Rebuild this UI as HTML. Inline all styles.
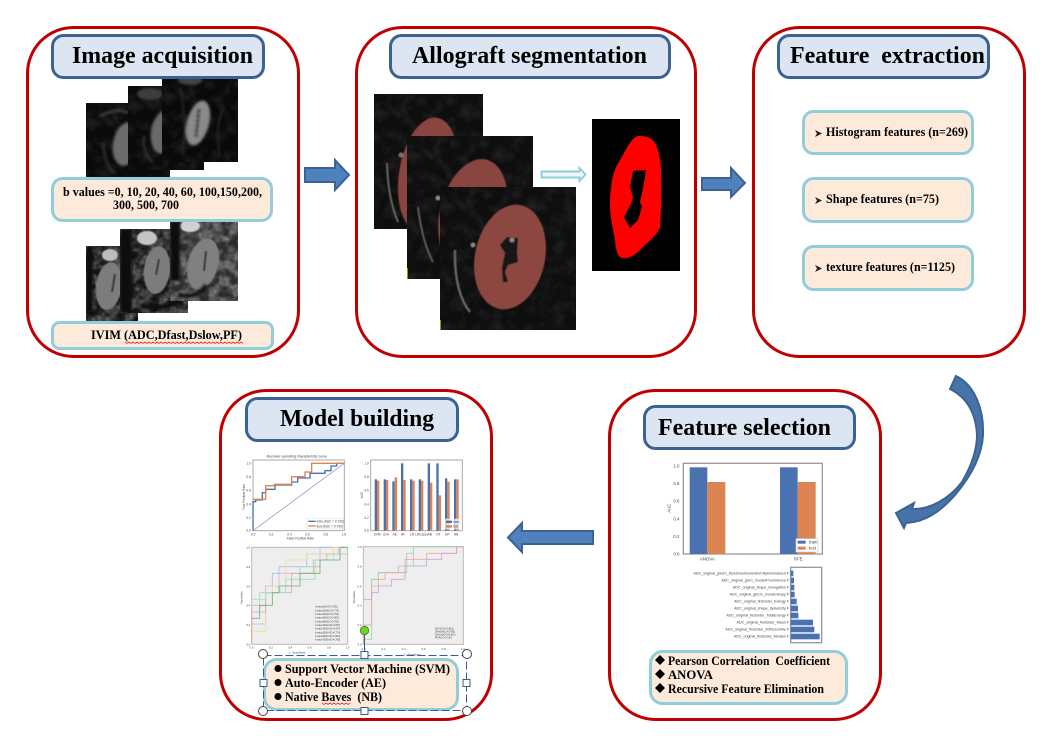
<!DOCTYPE html>
<html><head><meta charset="utf-8"><style>
html,body{margin:0;padding:0;background:#fff}
svg{display:block}
text{font-family:"Liberation Serif",serif;font-weight:bold;fill:#000}
.ch text{font-family:"Liberation Sans",sans-serif;font-weight:normal;fill:#444}
</style></head><body>
<svg xmlns="http://www.w3.org/2000/svg" width="1045" height="754" viewBox="0 0 1045 754">
<defs>
<filter id="b1" x="-30%" y="-30%" width="160%" height="160%"><feGaussianBlur stdDeviation="1.2"/></filter>
<filter id="b3" x="-30%" y="-30%" width="160%" height="160%"><feGaussianBlur stdDeviation="0.6"/></filter>
<filter id="b0" x="-5%" y="-5%" width="110%" height="110%"><feGaussianBlur stdDeviation="0.55"/></filter>
<filter id="nz" x="0" y="0" width="100%" height="100%"><feTurbulence type="fractalNoise" baseFrequency="0.25" numOctaves="2" seed="4"/><feColorMatrix values="0 0 0 0 1  0 0 0 0 1  0 0 0 0 1  1.6 0 0 0 -0.62"/></filter>
<filter id="nd" x="0" y="0" width="100%" height="100%"><feTurbulence type="fractalNoise" baseFrequency="0.1" numOctaves="2" seed="9"/><feColorMatrix values="0 0 0 0 0  0 0 0 0 0  0 0 0 0 0  3.2 0 0 0 -1.2"/></filter>
<filter id="ns" x="0" y="0" width="100%" height="100%"><feTurbulence type="fractalNoise" baseFrequency="0.08" numOctaves="3" seed="2"/><feColorMatrix values="0 0 0 0 1  0 0 0 0 1  0 0 0 0 1  1.1 0 0 0 -0.45"/></filter>
</defs>

<!-- panels -->
<g fill="#fff" stroke="#c00000" stroke-width="3">
<rect x="27.500" y="27.500" width="271" height="329" rx="46"/>
<rect x="356.500" y="27.500" width="339" height="329" rx="46"/>
<rect x="753.500" y="27.500" width="271" height="329" rx="46"/>
<rect x="220.500" y="390.500" width="271" height="329" rx="46"/>
<rect x="609.500" y="390.500" width="271" height="329" rx="46"/>
</g>

<!-- top-left DWI images -->
<svg x="86" y="103" width="84" height="74"><rect width="84" height="74" fill="#0a0a0a"/>
<rect width="84" height="74" filter="url(#ns)" opacity=".16"/>
<g filter="url(#b1)"><ellipse cx="40" cy="41" rx="13" ry="22" transform="rotate(10 40 41)" fill="#6c6c6c"/><path d="M14 13 Q32 4 42 10" stroke="#3c3c3c" stroke-width="3" fill="none"/><path d="M17 40 Q18 60 28 70" stroke="#383838" stroke-width="2" fill="none"/></g></svg>
<svg x="128" y="86" width="76" height="84"><rect width="76" height="84" fill="#0a0a0a"/>
<rect width="76" height="84" filter="url(#ns)" opacity=".16"/>
<g filter="url(#b1)"><ellipse cx="36" cy="46" rx="13" ry="22" transform="rotate(10 36 46)" fill="#696969"/><ellipse cx="22" cy="8" rx="13" ry="6" fill="#3c3c3c"/><path d="M16 50 Q14 68 25 76" stroke="#383838" stroke-width="2" fill="none"/></g></svg>
<svg x="162" y="77" width="76" height="85"><rect width="76" height="85" fill="#090909"/>
<rect width="76" height="85" filter="url(#ns)" opacity=".16"/>
<g filter="url(#b1)"><ellipse cx="36" cy="46" rx="11" ry="23" transform="rotate(15 36 46)" fill="#8a8a8a"/><path d="M37 32 L34 60" stroke="#2c2c2c" stroke-width="3" stroke-dasharray="4 1"/><ellipse cx="28" cy="3" rx="12" ry="5" fill="#444"/><path d="M18 10 Q26 50 20 78 M62 30 Q52 50 58 80" stroke="#262626" stroke-width="2" fill="none"/></g></svg>

<!-- bottom-left IVIM images -->
<svg x="86" y="246" width="52" height="75"><rect width="52" height="75" fill="#3c3c3c"/>
<rect width="52" height="75" filter="url(#nz)" opacity=".35"/><rect width="52" height="75" filter="url(#nd)" opacity=".7"/>
<g filter="url(#b3)"><ellipse cx="23" cy="40" rx="13" ry="24" transform="rotate(8 23 40)" fill="#7b7b7b"/><ellipse cx="24" cy="9" rx="8" ry="6" fill="#bdbdbd"/><path d="M29 28 L26 46" stroke="#333" stroke-width="2"/></g>
<rect x="0" y="0" width="7" height="66" fill="#0a0a0a" filter="url(#b1)"/><path d="M0 71 H52" stroke="#111" stroke-width="7" filter="url(#b1)"/></svg>
<svg x="120" y="229" width="68" height="84"><rect width="68" height="84" fill="#3c3c3c"/>
<rect width="68" height="84" filter="url(#nz)" opacity=".35"/><rect width="68" height="84" filter="url(#nd)" opacity=".7"/>
<g filter="url(#b3)"><ellipse cx="37" cy="41" rx="13" ry="24" transform="rotate(6 37 41)" fill="#7b7b7b"/><ellipse cx="27" cy="9" rx="10" ry="7" fill="#c4c4c4"/><path d="M39 30 L36 46" stroke="#333" stroke-width="2"/></g>
<rect x="0" y="0" width="12" height="84" fill="#0a0a0a" filter="url(#b1)"/><path d="M20 76 Q45 84 68 66" stroke="#111" stroke-width="5" fill="none" filter="url(#b1)"/></svg>
<svg x="170" y="221" width="68" height="80"><rect width="68" height="80" fill="#5c5c5c"/>
<rect width="68" height="80" filter="url(#nz)" opacity=".3"/><rect width="68" height="80" filter="url(#nd)" opacity=".55"/>
<g filter="url(#b3)"><ellipse cx="33" cy="43" rx="15" ry="26" transform="rotate(15 33 43)" fill="#808080"/><ellipse cx="20" cy="5" rx="10" ry="6" fill="#d0d0d0"/><path d="M36 30 L34 50" stroke="#333" stroke-width="2"/></g>
<rect x="0" y="0" width="10" height="60" fill="#0a0a0a" filter="url(#b1)"/><path d="M8 74 Q28 78 36 64" stroke="#111" stroke-width="4" fill="none" filter="url(#b1)"/></svg>

<!-- segmentation images -->
<svg x="374" y="94" width="109" height="135"><rect width="109" height="135" fill="#0e0e0e"/>
<rect width="109" height="135" filter="url(#ns)" opacity=".14"/>
<g filter="url(#b3)"><ellipse cx="54" cy="81" rx="29" ry="58" transform="rotate(9 54 81)" fill="#8b4540"/><circle cx="27" cy="61" r="2.500" fill="#777"/><path d="M13 69 Q14 105 24 128" stroke="#666" stroke-width="2" fill="none"/></g></svg>
<svg x="407" y="136" width="126" height="143"><rect width="126" height="143" fill="#0e0e0e"/>
<rect width="126" height="143" filter="url(#ns)" opacity=".14"/>
<g filter="url(#b3)"><ellipse cx="66" cy="78" rx="33" ry="56" transform="rotate(14 66 78)" fill="#8b4540"/><circle cx="31" cy="62" r="2.500" fill="#888"/><path d="M11 71 Q15 105 26 126" stroke="#5c5c5c" stroke-width="2" fill="none"/></g><line x1=".5" y1="132" x2=".5" y2="143" stroke="#a89000"/></svg>
<svg x="440" y="187" width="136" height="143"><rect width="136" height="143" fill="#0e0e0e"/>
<rect width="136" height="143" filter="url(#ns)" opacity=".14"/>
<g filter="url(#b3)"><path d="M15 63 Q14 105 30 125" stroke="#666" stroke-width="2.500" fill="none"/><ellipse cx="70" cy="70" rx="35" ry="53" transform="rotate(12 70 70)" fill="#8c4640"/><circle cx="33" cy="58" r="2.500" fill="#888"/><path d="M60 58L67 50L78 51L77 66L78 75L68 78L65 85L68 95L63 95L62 81L65 66Z" fill="#161616"/><circle cx="72" cy="53" r="2.500" fill="#888"/></g><line x1=".5" y1="133" x2=".5" y2="143" stroke="#a89000"/></svg>
<rect x="592" y="119" width="88" height="152" fill="#000"/>
<path d="M638 136C646 136 652 137 656 145C659 152 661 162 661 172C662 190 661 210 660 228C655 238 646 243 640 250C634 256 628 259 622 258C617 256 616 250 615 240C613 228 610 218 610 205C610 190 612 175 617 165C624 155 630 138 638 136Z M633 171L630 187L633 197L631 204L624 217L630 228L638 220L642 207L640 202L644 183L646 170Z" fill="#f00" fill-rule="evenodd"/>

<!-- arrows -->
<g fill="#4f81bd" stroke="#3c6292" stroke-width="2">
<polygon points="305,168 335,168 335,160 349,175 335,190 335,182 305,182"/>
<polygon points="702,178 731,178 731,168 745,183 731,197 731,190 702,190"/>
<polygon points="593,531 522,531 522,523 508,537.500 522,552 522,544 593,544"/>
<path d="M956 376C975 385 984 410 983 435C982 455 972 475 955 495C940 512 925 522 906 523L904 528L896 513L914 503L912 509C930 510 950 498 962 482C972 465 977 450 977 435C976 415 968 398 950 389Z" fill="#4673a8"/>
</g>
<polygon points="541.500,171.500 579.500,171.500 579.500,168 585.500,174.500 579.500,181 579.500,177.500 541.500,177.500" fill="#eef6f9" stroke="#92cddc" stroke-width="2"/>

<!-- titles -->
<g fill="#dce6f2" stroke="#3c6292" stroke-width="3">
<rect x="52.500" y="35.500" width="211" height="42" rx="11"/>
<rect x="390.500" y="35.500" width="279" height="42" rx="11"/>
<rect x="778.500" y="35.500" width="210" height="42" rx="11"/>
<rect x="246.500" y="398.500" width="211" height="42" rx="11"/>
<rect x="644.500" y="406.500" width="210" height="42" rx="11"/>
</g>
<g font-size="24">
<text x="72" y="63" textLength="181" lengthAdjust="spacingAndGlyphs">Image acquisition</text>
<text x="412" y="63" textLength="235" lengthAdjust="spacingAndGlyphs">Allograft segmentation</text>
<text x="790" y="63" textLength="195" lengthAdjust="spacingAndGlyphs" xml:space="preserve">Feature  extraction</text>
<text x="280" y="426" textLength="154" lengthAdjust="spacingAndGlyphs">Model building</text>
<text x="658" y="435" textLength="173" lengthAdjust="spacingAndGlyphs">Feature selection</text>
</g>

<!-- text boxes -->
<g fill="#fdeada" stroke="#92cddc" stroke-width="3">
<rect x="52.500" y="178.500" width="219" height="42" rx="10"/>
<rect x="52.500" y="322.500" width="220" height="26" rx="7"/>
<rect x="803.500" y="111.500" width="169" height="42" rx="10"/>
<rect x="803.500" y="178.500" width="169" height="43" rx="10"/>
<rect x="803.500" y="246.500" width="169" height="43" rx="10"/>
<rect x="650.500" y="651.500" width="196" height="52" rx="12"/>
</g>
<g font-size="13">
<text x="63" y="196" textLength="199" lengthAdjust="spacingAndGlyphs">b values =0, 10, 20, 40, 60, 100,150,200,</text>
<text x="113" y="209" textLength="66" lengthAdjust="spacingAndGlyphs">300, 500, 700</text>
<text x="91" y="339" textLength="151" lengthAdjust="spacingAndGlyphs">IVIM (ADC,Dfast,Dslow,PF)</text>
</g>
<path d="M125 342l2 1.500l2-1.500l2 1.500l2-1.500l2 1.500l2-1.500l2 1.500l2-1.500l2 1.500l2-1.500l2 1.500l2-1.500l2 1.500l2-1.500l2 1.500l2-1.500l2 1.500l2-1.500l2 1.500l2-1.500l2 1.500l2-1.500l2 1.500l2-1.500l2 1.500l2-1.500l2 1.500l2-1.500l2 1.500l2-1.500l2 1.500l2-1.500l2 1.500l2-1.500l2 1.500l2-1.500l2 1.500l2-1.500l2 1.500l2-1.500l2 1.500l2-1.500l2 1.500l2-1.500l2 1.500l2-1.500l2 1.500l2-1.500l2 1.500l2-1.500l2 1.500l2-1.500l2 1.500l2-1.500l2 1.500l2-1.500l2 1.500l2-1.500l2 1.500" fill="none" stroke="#e33" stroke-width=".8"/>
<g font-size="13">
<text x="826" y="136" textLength="142" lengthAdjust="spacingAndGlyphs">Histogram features (n=269)</text>
<text x="826" y="203" textLength="113" lengthAdjust="spacingAndGlyphs">Shape features (n=75)</text>
<text x="826" y="271" textLength="129" lengthAdjust="spacingAndGlyphs">texture features (n=1125)</text>
</g>
<g fill="#222">
<polygon points="815,130 822,133.500 815,137 817,133.500"/>
<polygon points="815,197 822,200.500 815,204 817,200.500"/>
<polygon points="815,265 822,268.500 815,272 817,268.500"/>
</g>

<!-- feature selection charts -->
<g class="ch" filter="url(#b0)" transform="translate(640 450) scale(.33333)">
<rect x="130" y="40" width="417" height="272" fill="#fff" stroke="#999" stroke-width="4"/>
<g fill="#4c72b0"><rect x="149" y="52" width="53" height="260"/><rect x="420" y="52" width="53" height="260"/></g>
<g fill="#dd8452"><rect x="202" y="96" width="54" height="216"/><rect x="473" y="96" width="54" height="216"/></g>
<rect x="468" y="266" width="66" height="40" fill="#fff" stroke="#ccc" stroke-width="2"/>
<rect x="473" y="272" width="24" height="9" fill="#4c72b0"/><rect x="473" y="290" width="24" height="9" fill="#dd8452"/>
<g font-size="13"><text x="507" y="280">train</text><text x="507" y="298">test</text>
<text x="100" y="52">1.0</text><text x="100" y="105">0.8</text><text x="100" y="158">0.6</text><text x="100" y="211">0.4</text><text x="100" y="264">0.2</text><text x="100" y="316">0.0</text>
<text x="180" y="331">ANOVA</text><text x="462" y="331">RFE</text>
<text transform="translate(92 188) rotate(-90)">AUC</text></g>
<rect x="452" y="352" width="93" height="226" fill="#fff" stroke="#999" stroke-width="4"/>
<g fill="#4c72b0"><rect x="452" y="362" width="8" height="17"/><rect x="452" y="383" width="10" height="17"/><rect x="452" y="404" width="11" height="17"/><rect x="452" y="425" width="12" height="17"/><rect x="452" y="446" width="18" height="17"/><rect x="452" y="467" width="22" height="17"/><rect x="452" y="488" width="23" height="17"/><rect x="452" y="509" width="67" height="17"/><rect x="452" y="530" width="71" height="17"/><rect x="452" y="551" width="87" height="17"/></g>
<g font-size="11" text-anchor="end"><text x="447" y="374">ADC_original_glszm_SizeZoneNonUniformityNormalized F</text><text x="447" y="395">ADC_original_glcm_ClusterProminence F</text><text x="447" y="416">ADC_original_shape_Elongation F</text><text x="447" y="437">ADC_original_glszm_ZoneEntropy F</text><text x="447" y="458">ADC_original_firstorder_Energy F</text><text x="447" y="479">ADC_original_shape_Sphericity F</text><text x="447" y="500">ADC_original_firstorder_TotalEnergy F</text><text x="447" y="521">ADC_original_firstorder_Mean F</text><text x="447" y="542">ADC_original_firstorder_90Percentile F</text><text x="447" y="563">ADC_original_firstorder_Median F</text></g>
</g>
<g font-size="13">
<text x="668" y="665" textLength="162" lengthAdjust="spacingAndGlyphs" xml:space="preserve">Pearson Correlation  Coefficient</text>
<text x="668" y="679" textLength="45" lengthAdjust="spacingAndGlyphs">ANOVA</text>
<text x="668" y="693" textLength="156" lengthAdjust="spacingAndGlyphs">Recursive Feature Elimination</text>
</g>
<g fill="#000"><polygon points="660,655 665,660 660,665 655,660"/><polygon points="660,669 665,674 660,679 655,674"/><polygon points="660,683 665,688 660,693 655,688"/></g>

<!-- model charts -->
<g class="ch" filter="url(#b0)" transform="translate(225 450) scale(.33333)">
<rect x="84" y="30" width="274" height="212" fill="#fff" stroke="#aaa" stroke-width="3"/>
<text x="125" y="23" font-size="10.500">Receiver operating characteristic curve</text>
<line x1="84" y1="242" x2="358" y2="40" stroke="#8080c0" stroke-width="2"/>
<path d="M84 242V155H92V150H112V128H122V118H150V105H200V96H218V84H255V70H300V62H318V48H335V40H358" fill="none" stroke="#4c72b0" stroke-width="4"/>
<path d="M84 148H122V107H148V103H200V80H240V66H260V40H358" fill="none" stroke="#dd8452" stroke-width="4"/>
<rect x="246" y="205" width="108" height="32" fill="#fff" stroke="#ccc"/>
<line x1="250" y1="214" x2="272" y2="214" stroke="#4c72b0" stroke-width="4"/><line x1="250" y1="228" x2="272" y2="228" stroke="#dd8452" stroke-width="4"/>
<g font-size="9.500"><text x="275" y="218">train (AUC = 0.730)</text><text x="275" y="232">test (AUC = 0.790)</text>
<text x="185" y="268">False Positive Rate</text><text transform="translate(60 180) rotate(-90)">True Positive Rate</text>
<text x="64" y="43">1.0</text><text x="64" y="84">0.8</text><text x="64" y="125">0.6</text><text x="64" y="166">0.4</text><text x="64" y="207">0.2</text><text x="64" y="245">0.0</text>
<text x="78" y="256">0.0</text><text x="132" y="256">0.2</text><text x="187" y="256">0.4</text><text x="241" y="256">0.6</text><text x="296" y="256">0.8</text><text x="350" y="256">1.0</text></g>

<rect x="437" y="30" width="275" height="212" fill="#fff" stroke="#aaa" stroke-width="3"/>
<g fill="#4c72b0"><rect x="449" y="88" width="7" height="154"/><rect x="476" y="88" width="7" height="154"/><rect x="502" y="94" width="7" height="148"/><rect x="528" y="40" width="7" height="202"/><rect x="555" y="88" width="7" height="154"/><rect x="581" y="88" width="7" height="154"/><rect x="608" y="40" width="7" height="202"/><rect x="634" y="40" width="7" height="202"/><rect x="660" y="85" width="7" height="157"/><rect x="687" y="88" width="7" height="154"/></g>
<g fill="#dd8452"><rect x="456" y="92" width="7" height="150"/><rect x="483" y="90" width="7" height="152"/><rect x="509" y="82" width="7" height="160"/><rect x="535" y="90" width="7" height="152"/><rect x="562" y="92" width="7" height="150"/><rect x="588" y="92" width="7" height="150"/><rect x="615" y="98" width="7" height="144"/><rect x="641" y="136" width="7" height="106"/><rect x="667" y="95" width="7" height="147"/><rect x="694" y="88" width="7" height="154"/></g>
<rect x="660" y="206" width="46" height="32" fill="#fff" opacity=".7"/>
<rect x="663" y="212" width="18" height="7" fill="#4c72b0"/><rect x="663" y="226" width="18" height="7" fill="#dd8452"/>
<g font-size="9.500"><text x="685" y="219">train</text><text x="685" y="233">test</text>
<text x="418" y="43">1.0</text><text x="418" y="84">0.8</text><text x="418" y="125">0.6</text><text x="418" y="166">0.4</text><text x="418" y="207">0.2</text><text x="418" y="245">0.0</text>
<text x="446" y="256">SVM</text><text x="473" y="256">LDA</text><text x="503" y="256">AE</text><text x="528" y="256">RF</text><text x="555" y="256">LR</text><text x="571" y="256">LRLasso</text><text x="608" y="256">AB</text><text x="634" y="256">DT</text><text x="660" y="256">GP</text><text x="687" y="256">NB</text>
<text transform="translate(414 145) rotate(-90)">AUC</text></g>

<rect x="80" y="292" width="288" height="291" fill="#eeeeee" stroke="#bbb" stroke-width="3"/>
<g fill="none" stroke-width="2.500">
<path d="M80 583V522H122V428H142V370H162V350H245V312H285V292H368" stroke="#a8c0e8"/>
<path d="M80 583V486H104V428H165V408H200V388H270V330H345V312H368" stroke="#a8dca8"/>
<path d="M80 583V466H122V408H162V370H225V350H285V312H340V292H368" stroke="#e8a8e0" />
<path d="M80 544H122V466H142V408H182V330H245V312H325V292H368" stroke="#f0e090"/>
<path d="M80 564V486H122V428H200V370H265V330H305V312H368" stroke="#e8a898"/>
<path d="M80 448H122V428H182V388H225V350H265V330H325V312H368" stroke="#a0dcdc"/>
<path d="M80 505H104V466H142V428H162V408H225V370H285V330H345V292H368" stroke="#70b080"/>
</g>
<rect x="255" y="465" width="105" height="108" fill="#eee"/>
<g font-size="7"><text x="270" y="473">b-value0(AUC=0.785)</text><text x="270" y="484">b-value10(AUC=0.773)</text><text x="270" y="495">b-value20(AUC=0.752)</text><text x="270" y="506">b-value40(AUC=0.800)</text><text x="270" y="517">b-value60(AUC=0.785)</text><text x="270" y="528">b-value100(AUC=0.807)</text><text x="270" y="539">b-value150(AUC=0.807)</text><text x="270" y="550">b-value200(AUC=0.774)</text><text x="270" y="561">b-value500(AUC=0.800)</text><text x="270" y="572">b-value700(AUC=0.795)</text></g>
<g font-size="8.500"><text x="190" y="610" font-weight="bold">1 - Specificity</text><text transform="translate(52 462) rotate(-90)" font-weight="bold">Sensitivity</text>
<text x="64" y="296">1.0</text><text x="64" y="354">0.8</text><text x="64" y="412">0.6</text><text x="64" y="470">0.4</text><text x="64" y="528">0.2</text><text x="64" y="586">0.0</text>
<text x="74" y="596">0.0</text><text x="132" y="596">0.2</text><text x="190" y="596">0.4</text><text x="248" y="596">0.6</text><text x="306" y="596">0.8</text><text x="362" y="596">1.0</text></g>

<rect x="415" y="290" width="300" height="293" fill="#eeeeee" stroke="#bbb" stroke-width="3"/>
<g fill="none" stroke-width="2.500">
<path d="M415 583V525H440V388H460V368H520V348H565V290H715" stroke="#a8c0e8"/>
<path d="M415 568H440V388H460V368H545V310H565V290H715" stroke="#9adc9a"/>
<path d="M415 583V525H440V408H460V388H480V368H540V328H605V310H695V290H715" stroke="#f0a8a0"/>
<path d="M415 448H440V428H460V408H500V388H540V348H605V328H650V310H695V290H715" stroke="#d0a0dc"/>
</g>
<g font-size="7"><text x="630" y="538">ADC(AUC=0.810)</text><text x="630" y="547">DFast(AUC=0.780)</text><text x="630" y="556">DSlow(AUC=0.810)</text><text x="630" y="565">PF(AUC=0.700)</text></g>
<g font-size="8.500"><text x="535" y="616" font-weight="bold">1—Specificity</text><text transform="translate(390 460) rotate(-90)" font-weight="bold">Sensitivity</text>
<text x="398" y="294">1.0</text><text x="398" y="352">0.8</text><text x="398" y="412">0.6</text><text x="398" y="470">0.4</text><text x="398" y="528">0.2</text><text x="398" y="586">0.0</text>
<text x="410" y="600">0.0</text><text x="470" y="600">0.2</text><text x="530" y="600">0.4</text><text x="590" y="600">0.6</text><text x="650" y="600">0.8</text><text x="708" y="600">1.0</text></g>
</g>

<!-- model box with selection handles -->
<rect x="264.500" y="659.500" width="193" height="50" rx="12" fill="#fdeada" stroke="#92cddc" stroke-width="3"/>
<rect x="263.500" y="655.500" width="203" height="55" fill="none" stroke="#385d8a" stroke-width="1" stroke-dasharray="8 3"/>
<line x1="364.500" y1="634" x2="364.500" y2="655" stroke="#385d8a"/>
<circle cx="364.500" cy="630.500" r="4.200" fill="#6fd12c" stroke="#3c7d22" stroke-width=".8"/>
<g fill="#fff" stroke="#385d8a" stroke-width="1">
<rect x="361" y="651.500" width="7" height="7"/><rect x="361" y="707.500" width="7" height="7"/><rect x="260" y="679.500" width="7" height="7"/><rect x="463" y="679.500" width="7" height="7"/>
</g>
<g fill="#fff" stroke="#444" stroke-width="1">
<circle cx="263" cy="654" r="4.500"/><circle cx="467" cy="654" r="4.500"/><circle cx="263" cy="711" r="4.500"/><circle cx="467" cy="711" r="4.500"/>
</g>
<g fill="#000"><circle cx="278" cy="668.500" r="3.500"/><circle cx="278" cy="682.500" r="3.500"/><circle cx="278" cy="696.500" r="3.500"/></g>
<g font-size="13">
<text x="285" y="673" textLength="165" lengthAdjust="spacingAndGlyphs">Support Vector Machine (SVM)</text>
<text x="285" y="687" textLength="101" lengthAdjust="spacingAndGlyphs">Auto-Encoder (AE)</text>
<text x="285" y="701" textLength="97" lengthAdjust="spacingAndGlyphs" xml:space="preserve">Native Baves  (NB)</text>
</g>
<path d="M322 703l2 1.500l2-1.500l2 1.500l2-1.500l2 1.500l2-1.500l2 1.500l2-1.500l2 1.500l2-1.500l2 1.500l2-1.500l2 1.500l2-1.500" fill="none" stroke="#e33" stroke-width=".8"/>
</svg>
</body></html>
